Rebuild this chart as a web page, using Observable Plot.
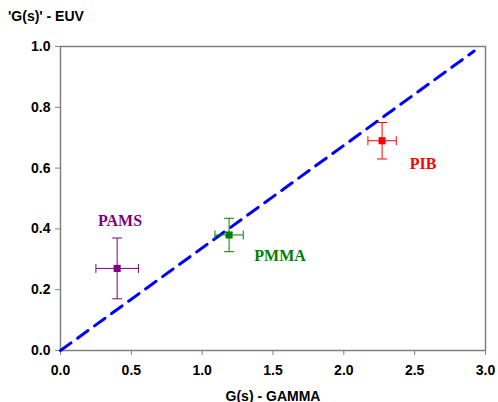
<!DOCTYPE html>
<html>
<head>
<meta charset="utf-8">
<script src="https://cdn.jsdelivr.net/npm/d3@7"></script>
<script src="https://cdn.jsdelivr.net/npm/@observablehq/plot@0.6"></script>
<style>
  html, body { margin: 0; padding: 0; background: #fff; }
  #chart { position: relative; width: 498px; height: 402px; }
  #ytitle { position: absolute; left: 8px; top: 8px; z-index: 2; font: bold 14px "Liberation Sans", Arial, sans-serif; color: #000; }
</style>
</head>
<body>
<div id="chart"><div id="ytitle">'G(s)' - EUV</div></div>
<script>
const polymers = ["PAMS", "PMMA", "PIB"];
const gammaGs = [0.40, 1.19, 2.27];
const gammaErr = [0.15, 0.10, 0.10];
const euvGs = [0.27, 0.38, 0.69];
const euvErr = [0.10, 0.055, 0.06];
const colors = ["#800080", "#008000", "#ff0000"];
const labelX = [0.42, 1.55, 2.56];
const labelY = [0.425, 0.31, 0.615];
const fitX = [0, 2.92];
const fitY = [0, 0.985];
const xTicks = [0, 0.5, 1, 1.5, 2, 2.5, 3];
const yTicks = [0, 0.2, 0.4, 0.6, 0.8, 1.0];

const pts = polymers.map((p, i) => ({
  name: p, x: gammaGs[i], xe: gammaErr[i], y: euvGs[i], ye: euvErr[i],
  color: colors[i], lx: labelX[i], ly: labelY[i]
}));
const fit = fitX.map((x, i) => ({x, y: fitY[i]}));

const hcap = {draw(ctx, size) { const r = Math.sqrt(size / Math.PI); ctx.moveTo(-r, 0); ctx.lineTo(r, 0); }};
const vcap = {draw(ctx, size) { const r = Math.sqrt(size / Math.PI); ctx.moveTo(0, -r); ctx.lineTo(0, r); }};

const caps = [];
pts.forEach(d => {
  caps.push({x: d.x, y: d.y + d.ye, t: "h", color: d.color});
  caps.push({x: d.x, y: d.y - d.ye, t: "h", color: d.color});
  caps.push({x: d.x + d.xe, y: d.y, t: "v", color: d.color});
  caps.push({x: d.x - d.xe, y: d.y, t: "v", color: d.color});
});

const chart = Plot.plot({
  width: 498,
  height: 402,
  marginLeft: 60,
  marginRight: 13,
  marginTop: 46,
  marginBottom: 52,
  style: {fontFamily: "'Liberation Sans', Arial, sans-serif", fontSize: "14px", fontWeight: "bold", color: "#000", background: "transparent"},
  x: {domain: [0, 3], ticks: xTicks, tickFormat: d3.format(".1f"), label: null},
  y: {domain: [0, 1], ticks: yTicks, tickFormat: d3.format(".1f"), label: null},
  marks: [
    Plot.frame({stroke: "#808080", strokeWidth: 1.5}),
    Plot.axisX({ticks: xTicks, tickFormat: d3.format(".1f"), tickSize: 5, tickPadding: 10, stroke: "#808080", fill: "#000", fontSize: 14, label: null}),
    Plot.axisY({ticks: yTicks, tickFormat: d3.format(".1f"), tickSize: 5, tickPadding: 5, stroke: "#808080", fill: "#000", fontSize: 14, label: null}),
    Plot.line(fit, {x: "x", y: "y", stroke: "#0000ff", strokeWidth: 3, strokeDasharray: "13,8"}),
    Plot.link(pts, {x1: d => d.x - d.xe, x2: d => d.x + d.xe, y1: "y", y2: "y", stroke: "color", strokeWidth: 1}),
    Plot.link(pts, {x1: "x", x2: "x", y1: d => d.y - d.ye, y2: d => d.y + d.ye, stroke: "color", strokeWidth: 1}),
    Plot.dot(caps.filter(c => c.t === "h"), {x: "x", y: "y", r: 5, symbol: hcap, stroke: "color", fill: "none", strokeWidth: 1}),
    Plot.dot(caps.filter(c => c.t === "v"), {x: "x", y: "y", r: 4.5, symbol: vcap, stroke: "color", fill: "none", strokeWidth: 1}),
    Plot.dot(pts, {x: "x", y: "y", r: 4, symbol: "square", fill: "color", stroke: null}),
    Plot.text(pts, {x: "lx", y: "ly", text: "name", fill: "color", fontFamily: "'Liberation Serif', 'Times New Roman', serif", fontSize: 16, fontWeight: "bold", textAnchor: "middle"}),
    Plot.text(["G(s) - GAMMA"], {frameAnchor: "bottom", dy: 50, text: d => d, fill: "#000", fontSize: 14, fontWeight: "bold"})
  ]
});
document.getElementById("chart").appendChild(chart);
chart.style.position = "absolute";
chart.style.left = "0";
chart.style.top = "0";
chart.style.zIndex = "1";
</script>
</body>
</html>
